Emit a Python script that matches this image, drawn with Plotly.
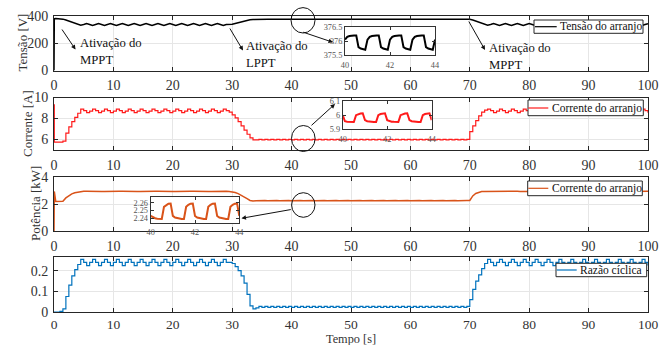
import plotly.graph_objects as go

W, H = 667, 345
SERIF = "Liberation Serif, Times New Roman, Times, serif"

# ---------------- data ----------------
# main time base [s]: three start samples, then every 0.5 s up to 100 s
tempo = [0.0, 0.05, 0.3] + [round(0.5 * k, 1) for k in range(1, 201)]

tensao = [0, 380, 381,
    381, 380, 377, 371, 363, 355, 347, 340, 333, 337,
    344, 337, 330, 337, 344, 337, 330, 337, 344, 337,
    330, 337, 344, 337, 330, 337, 344, 337, 330, 337,
    344, 337, 330, 337, 344, 337, 330, 337, 344, 337,
    330, 337, 344, 337, 330, 337, 344, 337, 330, 337,
    344, 337, 330, 337, 344, 337, 330, 337, 337, 340,
    345, 351, 357, 363, 368, 372, 375, 376.2, 375.7, 376.2,
    375.7, 376.2, 375.7, 376.2, 375.7, 376.2, 375.7, 376.2, 375.7, 376.2,
    375.7, 376.2, 375.7, 376.2, 375.7, 376.2, 375.7, 376.2, 375.7, 376.2,
    375.7, 376.2, 375.7, 376.2, 375.7, 376.2, 375.7, 376.2, 375.7, 376.2,
    375.7, 376.2, 375.7, 376.2, 375.7, 376.2, 375.7, 376.2, 375.7, 376.2,
    375.7, 376.2, 375.7, 376.2, 375.7, 376.2, 375.7, 376.2, 375.7, 376.2,
    375.7, 376.2, 375.7, 376.2, 375.7, 376.2, 375.7, 376.2, 375.7, 376.2,
    375.7, 376.2, 375.7, 376.2, 375.7, 376.2, 375.7, 376.2, 375.7, 376.2,
    370, 362, 354, 347, 340, 333, 337, 344, 337, 330,
    337, 344, 337, 330, 337, 344, 337, 330, 337, 344,
    337, 330, 337, 344, 337, 330, 337, 344, 337, 330,
    337, 344, 337, 330, 337, 344, 337, 330, 337, 344,
    337, 330, 337, 344, 337, 330, 337, 344, 337, 330,
    337, 344, 337, 330, 337, 344, 337, 330, 337, 344]

corrente = [9.3, 5.75, 5.75,
    5.75, 5.75, 5.85, 6.6, 7.2, 7.7, 8.1, 8.5, 8.9, 8.75,
    8.55, 8.7, 8.9, 8.75, 8.55, 8.7, 8.9, 8.75, 8.55, 8.7,
    8.9, 8.75, 8.55, 8.7, 8.9, 8.75, 8.55, 8.7, 8.9, 8.75,
    8.55, 8.7, 8.9, 8.75, 8.55, 8.7, 8.9, 8.75, 8.55, 8.7,
    8.9, 8.75, 8.55, 8.7, 8.9, 8.75, 8.55, 8.7, 8.9, 8.75,
    8.55, 8.7, 8.9, 8.75, 8.55, 8.7, 8.9, 8.75, 8.6, 8.35,
    8.05, 7.7, 7.3, 6.9, 6.5, 6.15, 5.96, 5.955, 6.012, 5.955,
    6.012, 5.955, 6.012, 5.955, 6.012, 5.955, 6.012, 5.955, 6.012, 5.955,
    6.012, 5.955, 6.012, 5.955, 6.012, 5.955, 6.012, 5.955, 6.012, 5.955,
    6.012, 5.955, 6.012, 5.955, 6.012, 5.955, 6.012, 5.955, 6.012, 5.955,
    6.012, 5.955, 6.012, 5.955, 6.012, 5.955, 6.012, 5.955, 6.012, 5.955,
    6.012, 5.955, 6.012, 5.955, 6.012, 5.955, 6.012, 5.955, 6.012, 5.955,
    6.012, 5.955, 6.012, 5.955, 6.012, 5.955, 6.012, 5.955, 6.012, 5.955,
    6.012, 5.955, 6.012, 5.955, 6.012, 5.955, 6.012, 5.955, 6.012, 6.75,
    7.3, 7.8, 8.25, 8.6, 8.8, 8.9, 8.75, 8.55, 8.7, 8.9,
    8.75, 8.55, 8.7, 8.9, 8.75, 8.55, 8.7, 8.9, 8.75, 8.55,
    8.7, 8.9, 8.75, 8.55, 8.7, 8.9, 8.75, 8.55, 8.7, 8.9,
    8.75, 8.55, 8.7, 8.9, 8.75, 8.55, 8.7, 8.9, 8.75, 8.55,
    8.7, 8.9, 8.75, 8.55, 8.7, 8.9, 8.75, 8.55, 8.7, 8.9,
    8.75, 8.55, 8.7, 8.9, 8.75, 8.55, 8.7, 8.9, 8.75, 8.55]

potencia = [0, 2.93, 2.18,
    2.18, 2.18, 2.2, 2.45, 2.62, 2.75, 2.83, 2.88, 2.935, 2.945,
    2.94, 2.93, 2.935, 2.945, 2.94, 2.93, 2.935, 2.945, 2.94, 2.93,
    2.935, 2.945, 2.94, 2.93, 2.935, 2.945, 2.94, 2.93, 2.935, 2.945,
    2.94, 2.93, 2.935, 2.945, 2.94, 2.93, 2.935, 2.945, 2.94, 2.93,
    2.935, 2.945, 2.94, 2.93, 2.935, 2.945, 2.94, 2.93, 2.935, 2.945,
    2.94, 2.93, 2.935, 2.945, 2.94, 2.93, 2.935, 2.945, 2.92, 2.9,
    2.85, 2.77, 2.66, 2.54, 2.4, 2.26, 2.22, 2.239, 2.259, 2.239,
    2.259, 2.239, 2.259, 2.239, 2.259, 2.239, 2.259, 2.239, 2.259, 2.239,
    2.259, 2.239, 2.259, 2.239, 2.259, 2.239, 2.259, 2.239, 2.259, 2.239,
    2.259, 2.239, 2.259, 2.239, 2.259, 2.239, 2.259, 2.239, 2.259, 2.239,
    2.259, 2.239, 2.259, 2.239, 2.259, 2.239, 2.259, 2.239, 2.259, 2.239,
    2.259, 2.239, 2.259, 2.239, 2.259, 2.239, 2.259, 2.239, 2.259, 2.239,
    2.259, 2.239, 2.259, 2.239, 2.259, 2.239, 2.259, 2.239, 2.259, 2.239,
    2.259, 2.239, 2.259, 2.239, 2.259, 2.239, 2.259, 2.239, 2.259, 2.26,
    2.6, 2.78, 2.87, 2.92, 2.93, 2.935, 2.945, 2.94, 2.93, 2.935,
    2.945, 2.94, 2.93, 2.935, 2.945, 2.94, 2.93, 2.935, 2.945, 2.94,
    2.93, 2.935, 2.945, 2.94, 2.93, 2.935, 2.945, 2.94, 2.93, 2.935,
    2.945, 2.94, 2.93, 2.935, 2.945, 2.94, 2.93, 2.935, 2.945, 2.94,
    2.93, 2.935, 2.945, 2.94, 2.93, 2.935, 2.945, 2.94, 2.93, 2.935,
    2.945, 2.94, 2.93, 2.935, 2.945, 2.94, 2.93, 2.935, 2.945, 2.94]

razao = [0, 0, 0,
    0, 0.003, 0.015, 0.075, 0.13, 0.175, 0.205, 0.23, 0.255, 0.24,
    0.225, 0.24, 0.255, 0.24, 0.225, 0.24, 0.255, 0.24, 0.225, 0.24,
    0.255, 0.24, 0.225, 0.24, 0.255, 0.24, 0.225, 0.24, 0.255, 0.24,
    0.225, 0.24, 0.255, 0.24, 0.225, 0.24, 0.255, 0.24, 0.225, 0.24,
    0.255, 0.24, 0.225, 0.24, 0.255, 0.24, 0.225, 0.24, 0.255, 0.24,
    0.225, 0.24, 0.255, 0.24, 0.225, 0.24, 0.255, 0.24, 0.24, 0.235,
    0.22, 0.2, 0.175, 0.14, 0.085, 0.03, 0.015, 0.02, 0.027, 0.022,
    0.027, 0.022, 0.027, 0.022, 0.027, 0.022, 0.027, 0.022, 0.027, 0.022,
    0.027, 0.022, 0.027, 0.022, 0.027, 0.022, 0.027, 0.022, 0.027, 0.022,
    0.027, 0.022, 0.027, 0.022, 0.027, 0.022, 0.027, 0.022, 0.027, 0.022,
    0.027, 0.022, 0.027, 0.022, 0.027, 0.022, 0.027, 0.022, 0.027, 0.022,
    0.027, 0.022, 0.027, 0.022, 0.027, 0.022, 0.027, 0.022, 0.027, 0.022,
    0.027, 0.022, 0.027, 0.022, 0.027, 0.022, 0.027, 0.022, 0.027, 0.022,
    0.027, 0.022, 0.027, 0.022, 0.027, 0.022, 0.027, 0.022, 0.027, 0.06,
    0.11, 0.15, 0.18, 0.21, 0.235, 0.255, 0.24, 0.225, 0.24, 0.255,
    0.24, 0.225, 0.24, 0.255, 0.24, 0.225, 0.24, 0.255, 0.24, 0.225,
    0.24, 0.255, 0.24, 0.225, 0.24, 0.255, 0.24, 0.225, 0.24, 0.255,
    0.24, 0.225, 0.24, 0.255, 0.24, 0.225, 0.24, 0.255, 0.24, 0.225,
    0.24, 0.255, 0.24, 0.225, 0.24, 0.255, 0.24, 0.225, 0.24, 0.255,
    0.24, 0.225, 0.24, 0.255, 0.24, 0.225, 0.24, 0.255, 0.24, 0.225]

# zoom insets, 40 s .. 44 s every 0.1 s
tempo_zoom = [round(40 + 0.1 * i, 1) for i in range(41)]
tensao_zoom = [
    376.05, 376.15, 376.18, 376.2, 376.2, 376.2, 375.78, 375.73, 375.71, 375.69,
    376.05, 376.15, 376.18, 376.2, 376.2, 376.2, 375.78, 375.73, 375.71, 375.69,
    376.05, 376.15, 376.18, 376.2, 376.2, 376.2, 375.78, 375.73, 375.71, 375.69,
    376.05, 376.15, 376.18, 376.2, 376.2, 376.2, 375.78, 375.73, 375.71, 375.69,
    376.05]
corrente_zoom = [
    6.0, 5.957, 5.954, 5.953, 5.952, 5.952, 6.0, 6.008, 6.012, 6.013,
    5.965, 5.957, 5.954, 5.953, 5.952, 5.952, 6.0, 6.008, 6.012, 6.013,
    5.965, 5.957, 5.954, 5.953, 5.952, 5.952, 6.0, 6.008, 6.012, 6.013,
    5.965, 5.957, 5.954, 5.953, 5.952, 5.952, 6.0, 6.008, 6.012, 6.013,
    5.965]
potencia_zoom = [
    2.243, 2.241, 2.240, 2.2395, 2.239, 2.239, 2.2547, 2.2574, 2.2588, 2.259,
    2.243, 2.241, 2.240, 2.2395, 2.239, 2.239, 2.2547, 2.2574, 2.2588, 2.259,
    2.243, 2.241, 2.240, 2.2395, 2.239, 2.239, 2.2547, 2.2574, 2.2588, 2.259,
    2.243, 2.241, 2.240, 2.2395, 2.239, 2.239, 2.2547, 2.2574, 2.2588, 2.259,
    2.243]

x_ticks = [0, 10, 20, 30, 40, 50, 60, 70, 80, 90, 100]
y_titles = ["Tensão [V]", "Corrente [A]", "Potência [kW]", ""]
x_title = "Tempo [s]"
legend_names = ["Tensão do arranjo", "Corrente do arranjo", "Corrente do arranjo", "Razão cíclica"]
annot_texts = ["Ativação do<br>MPPT", "Ativação do<br>LPPT", "Ativação do<br>MPPT"]

# ---------------- layout helpers ----------------
ML, MR, MT, MB = 54, 19, 16, 33
PW = W - ML - MR
PH = H - MT - MB


def fx(px):
    return (px - ML) / PW


def fy(py):
    return (H - MB - py) / PH


C_V, C_I, C_P, C_D = "#000000", "#ff1a1a", "#d95319", "#0072bd"
AXC = "#262626"

fig = go.Figure()
fig.add_trace(go.Scatter(x=tempo, y=tensao, mode="lines", name=legend_names[0],
                         line=dict(color=C_V, width=1.5), xaxis="x", yaxis="y"))
fig.add_trace(go.Scatter(x=tempo, y=corrente, mode="lines", name=legend_names[1],
                         line=dict(color=C_I, width=1.2, shape="hv"), xaxis="x2", yaxis="y2"))
fig.add_trace(go.Scatter(x=tempo, y=potencia, mode="lines", name=legend_names[2],
                         line=dict(color=C_P, width=1.5), xaxis="x3", yaxis="y3"))
fig.add_trace(go.Scatter(x=tempo, y=razao, mode="lines", name=legend_names[3],
                         line=dict(color=C_D, width=1.2, shape="hv"), xaxis="x4", yaxis="y4"))
fig.add_trace(go.Scatter(x=tempo_zoom, y=tensao_zoom, mode="lines", showlegend=False,
                         line=dict(color=C_V, width=2), xaxis="x5", yaxis="y5"))
fig.add_trace(go.Scatter(x=tempo_zoom, y=corrente_zoom, mode="lines", showlegend=False,
                         line=dict(color=C_I, width=2), xaxis="x6", yaxis="y6"))
fig.add_trace(go.Scatter(x=tempo_zoom, y=potencia_zoom, mode="lines", showlegend=False,
                         line=dict(color=C_P, width=2), xaxis="x7", yaxis="y7"))


def main_ax(**kw):
    d = dict(showline=True, linecolor=AXC, linewidth=1, mirror="ticks", ticks="inside",
             ticklen=4, tickwidth=1, tickcolor=AXC, showgrid=True, gridcolor="#e6e6e6",
             gridwidth=1, zeroline=False, automargin=False,
             tickfont=dict(family=SERIF, size=14, color="#333333"))
    d.update(kw)
    return d


def inset_ax(**kw):
    d = dict(showline=True, linecolor="#333333", linewidth=1, mirror="ticks", ticks="inside",
             ticklen=3, tickwidth=1, tickcolor="#333333", showgrid=False, zeroline=False,
             automargin=False, tickfont=dict(family=SERIF, size=8.3, color="#555555"))
    d.update(kw)
    return d


title_font = dict(family=SERIF, size=13, color="#333333")
xdom = [0, 1]
panels = [(70.5, 16), (150, 97.5), (231, 177), (312, 257.3)]
yranges = [[0, 400], [5, 10], [0, 4], [0, 0.265]]
yticks = [[0, 200, 400], [6, 8, 10], [0, 2, 4], [0, 0.1, 0.2]]

lay = {}
for i in range(4):
    sx = "" if i == 0 else str(i + 1)
    xkw = dict(domain=xdom, anchor="y" + sx, range=[0, 100], tickvals=x_ticks,
               ticklabelstandoff=(0 if i == 3 else 2))
    if i == 3:
        xkw["tickfont"] = dict(family=SERIF, size=13.5, color="#333333")
    lay["xaxis" + sx] = main_ax(**xkw)
    lay["yaxis" + sx] = main_ax(domain=[fy(panels[i][0]), fy(panels[i][1])], anchor="x" + sx,
                                range=yranges[i], tickvals=yticks[i], ticklabelstandoff=2)

# insets
lay["xaxis5"] = inset_ax(domain=[fx(345), fx(435)], anchor="y5", range=[40, 44], tickvals=[40, 42, 44],
                         ticklabelstandoff=2)
lay["yaxis5"] = inset_ax(domain=[fy(55), fy(27)], anchor="x5", range=[375.5, 376.5],
                         tickvals=[375.5, 376, 376.5], ticktext=["375.5", "376", "376.5"])
lay["xaxis6"] = inset_ax(domain=[fx(342.7), fx(431.7)], anchor="y6", range=[40, 44], tickvals=[40, 42, 44],
                         ticklabelstandoff=2)
lay["yaxis6"] = inset_ax(domain=[fy(129.3), fy(101)], anchor="x6", range=[5.9, 6.1],
                         tickvals=[5.9, 6.0, 6.1], ticktext=["5.9", "6", "6.1"])
lay["xaxis7"] = inset_ax(domain=[fx(150.7), fx(239.3)], anchor="y7", range=[40, 44], tickvals=[40, 42, 44],
                         ticklabelstandoff=1)
lay["yaxis7"] = inset_ax(domain=[fy(223.3), fy(197.3)], anchor="x7", range=[2.2335, 2.267],
                         tickvals=[2.24, 2.25, 2.26], ticktext=["2.24", "2.25", "2.26"])

shapes = []
annotations = []

# axis titles (placed like the reference, next to the tick labels)
for (tx, ty), txt in zip([(21.5, 43), (27, 124), (35, 204)], y_titles[:3]):
    annotations.append(dict(xref="paper", yref="paper", x=fx(tx), y=fy(ty), text=txt, showarrow=False,
                            textangle=-90, xanchor="center", yanchor="middle", font=title_font))
annotations.append(dict(xref="paper", yref="paper", x=fx(351), y=fy(338.8), text=x_title, showarrow=False,
                        xanchor="center", yanchor="middle", borderpad=0,
                        font=dict(family=SERIF, size=12.3, color="#333333")))

# zoom circles
for cx, cy, rx, ry in [(303, 20.3, 12, 12.7), (303.3, 138.5, 11.8, 13), (303.3, 205, 11.7, 12.3)]:
    shapes.append(dict(type="circle", xref="paper", yref="paper", x0=fx(cx - rx), x1=fx(cx + rx),
                       y0=fy(cy + ry), y1=fy(cy - ry), line=dict(color="#111111", width=1),
                       fillcolor="rgba(0,0,0,0)", layer="above"))


def arrow(tx, ty, hx, hy):
    annotations.append(dict(xref="paper", yref="paper", x=fx(hx), y=fy(hy), ax=tx - hx, ay=ty - hy,
                            text="", showarrow=True, arrowhead=2, arrowsize=0.9, arrowwidth=1,
                            arrowcolor="#111111"))


arrow(301.7, 31.7, 333, 42.3)
arrow(310, 126.7, 335, 104)
arrow(292.3, 209.3, 241.5, 218.3)
arrow(61, 28, 75.5, 49.5)
arrow(229, 27, 243, 50.5)
arrow(468, 20, 485, 50)

for (tx, ty), txt in zip([(78, 52), (244, 54.7), (487.3, 56.7)], annot_texts):
    annotations.append(dict(xref="paper", yref="paper", x=fx(tx), y=fy(ty), text=txt, showarrow=False,
                            xanchor="left", yanchor="middle", align="left",
                            font=dict(family=SERIF, size=12.7, color="#111111")))

# legend boxes (one per panel)
legends = [
    (534, 643, 20, 33.3, 535, 556.7, 26.7, 557.5, C_V),
    (528, 643.3, 100, 115.7, 528.3, 548.3, 108, 550, C_I),
    (527.7, 642.3, 181, 195.7, 528.3, 548.3, 188.3, 550, C_P),
    (556, 646.7, 263.3, 276.7, 556.7, 576.7, 270, 578.3, C_D),
]
for (bx0, bx1, by0, by1, lx0, lx1, ly, tx, col), name in zip(legends, legend_names):
    shapes.append(dict(type="rect", xref="paper", yref="paper", x0=fx(bx0), x1=fx(bx1),
                       y0=fy(by1), y1=fy(by0), fillcolor="white", line=dict(color=AXC, width=1),
                       layer="above"))
    shapes.append(dict(type="line", xref="paper", yref="paper", x0=fx(lx0), x1=fx(lx1),
                       y0=fy(ly), y1=fy(ly), line=dict(color=col, width=1.2), layer="above"))
    annotations.append(dict(xref="paper", yref="paper", x=fx(tx), y=fy(ly), text=name, showarrow=False,
                            xanchor="left", yanchor="middle",
                            font=dict(family=SERIF, size=11.5, color="#111111")))

fig.update_layout(
    template="none",
    width=W, height=H,
    margin=dict(l=ML, r=MR, t=MT, b=MB, pad=0),
    paper_bgcolor="white", plot_bgcolor="white",
    font=dict(family=SERIF, size=13, color="#333333"),
    showlegend=False,
    shapes=shapes,
    annotations=annotations,
    **lay,
)

fig.write_html("out.html", config={"displayModeBar": False},
               post_script="document.body.style.margin='0px';document.body.style.overflow='hidden';")
